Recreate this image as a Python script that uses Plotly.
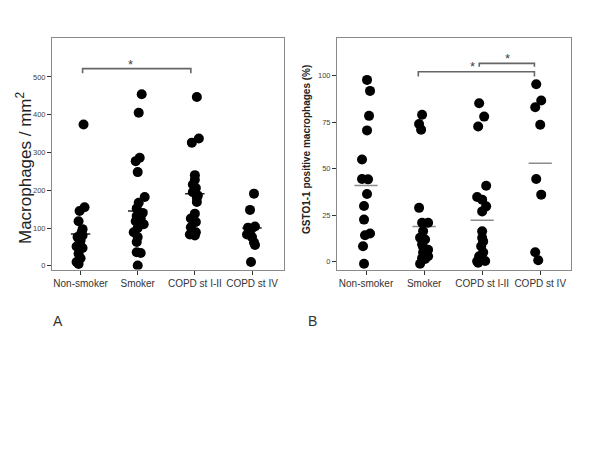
"""
Macrophage counts and GSTO1-1 positive macrophages per group (two dot plots).
"""

import plotly.graph_objects as go

# ── Data ──────────────────────────────────────────────────────────────────────

groups = ["Non-smoker", "Smoker", "COPD st I-II", "COPD st IV"]

# Panel A: macrophages / mm2
a_nonsmoker = [374, 155, 145, 118, 97, 88, 80, 76, 67, 60, 51, 47, 32, 20, 10, 5]
a_smoker = [454, 405, 286, 277, 248, 182, 167, 152, 140, 132, 125, 118, 110, 100,
            89, 76, 63, 36, 34, 1]
a_copd12 = [447, 337, 326, 240, 228, 215, 206, 195, 186, 180, 169, 138, 125, 116,
            102, 89, 83, 80]
a_copd4 = [191, 148, 104, 101, 96, 83, 76, 62, 55, 10]
a_means = [84, 145, 191, 100]

# Panel B: GSTO1-1 positive macrophages (%)
b_nonsmoker = [97.7, 91.8, 78.4, 70.6, 55, 44.5, 44.3, 36.4, 30, 22.7, 15.2, 14.3, 8.4, -1]
b_smoker = [79, 74, 71, 29, 21, 21, 16.5, 13, 12, 9.5, 8, 6.5, 5, 3, 2, 1.5, -1]
b_copd12 = [85.2, 78, 72.7, 40.9, 34.8, 33.4, 29.8, 27.1, 16.4, 12.9, 11, 8.4, 5.1,
            3, 1.2, 0.5, 0.3, -0.5]
b_copd4 = [95.4, 86.6, 83, 73.6, 44.5, 36.1, 5.2, 0.9]
b_means = [41, 19, 22.3, 53]

# horizontal scatter of the dots around each group, in pixels
a_spread = [
    [3, 4, -1, -2, 2, 1, 2, -3, 0, -1, -4, 2, -2, 0, -4, -2],
    [4, 1, 2, -2, 0, 7, 1, -1, 5, -1, 3, -2, 6, 0, -4, 0, -1, -1, 3, 0],
    [2, 4, -3, 0, 0, -2, 1, -2, 3, 2, 2, 0, -4, 1, -4, 1, -5, 0],
    [2, -2, 3, -4, -1, -5, 0, 2, 3, -1],
]
b_spread = [
    [1, 4, 3, 1, -4, -4, 2, 1, -2, -2, 4, -1, -3, -2],
    [-2, -5, -3, -5, -2, 4, -1, -4, 1, -2, -1, 4, -1, 4, -2, 1, -4],
    [-3, 2, -4, 4, -5, 0, 4, 0, 0, 0, 1, -1, 1, -3, 0, 3, -5, -4],
    [-4, 1, -5, 0, -4, 1, -5, -2],
]

FONT = "Liberation Sans, Arial, sans-serif"
AXIS_GREY = "#8a8a8a"


# ── Helpers ───────────────────────────────────────────────────────────────────

def add_dots(fig, series, spread, px_per_cat, xref, yref):
    for i, (vals, dx) in enumerate(zip(series, spread)):
        fig.add_trace(go.Scatter(
            x=[i + d / px_per_cat for d in dx], y=vals,
            mode="markers", marker=dict(size=10, color="black"),
            showlegend=False, hoverinfo="y", xaxis=xref, yaxis=yref,
        ))


def add_means(fig, means, color, half, xref, yref):
    for i, m in enumerate(means):
        fig.add_trace(go.Scatter(
            x=[i - half, i + half], y=[m, m], mode="lines",
            line=dict(color=color, width=1.5),
            showlegend=False, hoverinfo="skip", xaxis=xref, yaxis=yref,
        ))


def add_bracket(fig, x0, x1, y, drop, xref, yref):
    fig.add_trace(go.Scatter(
        x=[x0, x0, x1, x1], y=[y - drop, y, y, y - drop], mode="lines",
        line=dict(color="#666666", width=1.6),
        showlegend=False, hoverinfo="skip", xaxis=xref, yaxis=yref,
    ))


def style_x(rng, domain, anchor):
    return dict(domain=domain, range=rng, tickvals=[0, 1, 2, 3], ticktext=groups,
                tickangle=0, automargin=False, anchor=anchor,
                ticks="outside", ticklen=4, tickcolor="#333", showline=True,
                linecolor=AXIS_GREY, mirror=True, showgrid=False, zeroline=False,
                tickfont=dict(family=FONT, size=10, color="#333"))


def style_y(rng, tickvals, domain, anchor):
    return dict(domain=domain, range=rng, tickvals=tickvals, ticks="outside",
                automargin=False, ticklen=4, tickcolor="#333", showline=True,
                linecolor=AXIS_GREY, mirror=True, showgrid=False, zeroline=False,
                anchor=anchor, tickfont=dict(family=FONT, size=7.5, color="#444"))


# ── Figure ────────────────────────────────────────────────────────────────────

fig = go.Figure()

add_means(fig, a_means, "#222222", 0.17, "x", "y")
add_dots(fig, [a_nonsmoker, a_smoker, a_copd12, a_copd4], a_spread, 57.3, "x", "y")
add_bracket(fig, 0.035, 1.93, 522, 12, "x", "y")

add_means(fig, b_means, "#8c8c8c", 0.2, "x2", "y2")
add_dots(fig, [b_nonsmoker, b_smoker, b_copd12, b_copd4], b_spread, 58, "x2", "y2")
add_bracket(fig, 0.9, 2.9, 102.1, 2.6, "x2", "y2")
add_bracket(fig, 1.95, 2.9, 106.6, 1.8, "x2", "y2")

yd = [1 - 269.5 / 455, 1 - 38 / 455]
fig.update_layout(
    width=600, height=455, autosize=False,
    margin=dict(l=0, r=0, t=0, b=0, pad=0, autoexpand=False),
    paper_bgcolor="white", plot_bgcolor="white",
    xaxis=style_x([-0.5, 3.56], [52 / 600, 284 / 600], "y"),
    yaxis=style_y([-9.8, 603], [0, 100, 200, 300, 400, 500], yd, "x"),
    xaxis2=style_x([-0.5, 3.53], [337 / 600, 571 / 600], "y2"),
    yaxis2=style_y([-4.1, 120.2], [0, 25, 50, 75, 100], yd, "x2"),
)

star = dict(showarrow=False, text="*", xanchor="center", yanchor="middle",
            font=dict(family=FONT, size=13, color="#444"))
fig.add_annotation(x=0.87, y=532, xref="x", yref="y", **star)
fig.add_annotation(x=1.83, y=104.8, xref="x2", yref="y2", **star)
fig.add_annotation(x=2.43, y=109.2, xref="x2", yref="y2", **star)

fig.add_annotation(x=24 / 600, y=1 - 168 / 455, xref="paper", yref="paper",
                   xanchor="center", yanchor="middle",
                   text="Macrophages / mm<sup>2</sup>", textangle=-90, showarrow=False,
                   font=dict(family=FONT, size=17, color="#222"))
fig.add_annotation(x=307 / 600, y=1 - 150 / 455, xref="paper", yref="paper",
                   xanchor="center", yanchor="middle",
                   text="<b>GSTO1-1 positive macrophages (%)</b>", textangle=-90,
                   showarrow=False, font=dict(family=FONT, size=10, color="#222"))

for label, px in [("A", 58), ("B", 313)]:
    fig.add_annotation(x=px / 600, y=1 - 321 / 455, xref="paper", yref="paper",
                       xanchor="center", yanchor="middle", text=label, showarrow=False,
                       font=dict(family=FONT, size=14, color="#333"))

# the page's default body margin would shift the whole figure by 8px
fig.write_html("out.html", config={"displayModeBar": False},
               post_script="document.body.style.margin='0';")
